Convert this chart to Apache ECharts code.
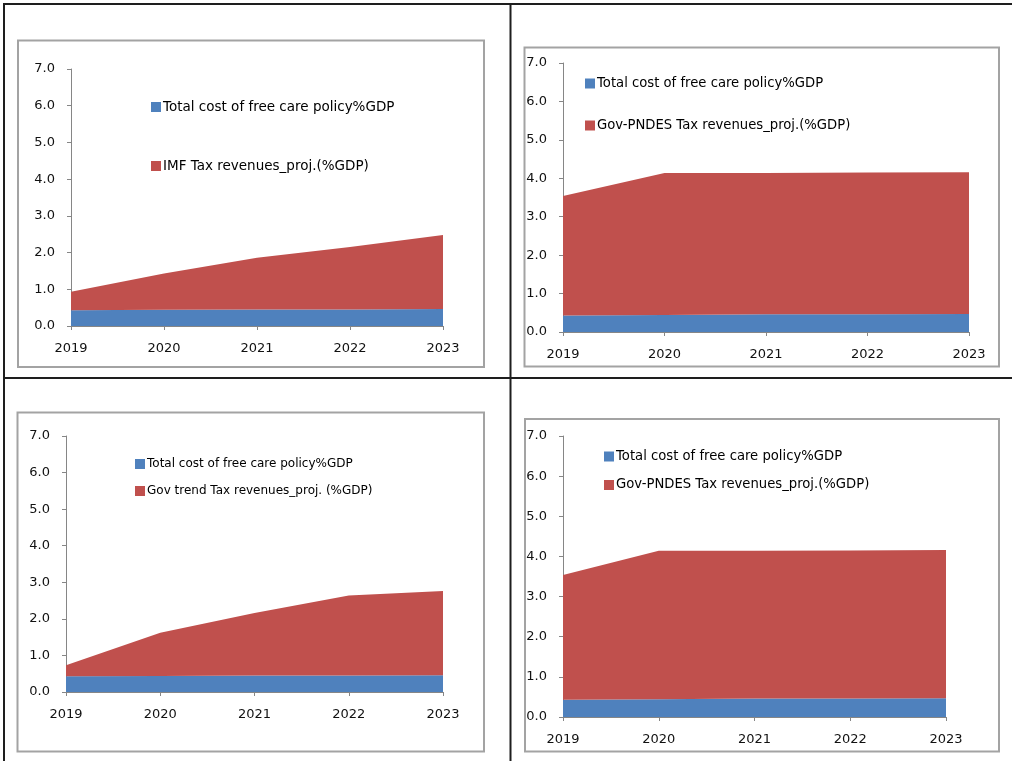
<!DOCTYPE html>
<html>
<head>
<meta charset="utf-8">
<title>Free care policy cost vs tax revenue projections</title>
<script src="https://cdn.jsdelivr.net/npm/echarts@6/dist/echarts.min.js"></script>
<style>
  html, body { margin: 0; padding: 0; background: #fff; }
  #chart { width: 1012px; height: 761px; }
</style>
</head>
<body>
<div id="chart"></div>
<script>
// Years on the horizontal axis of every panel
const years = ['2019', '2020', '2021', '2022', '2023'];
const yTicks = [0, 1, 2, 3, 4, 5, 6, 7];

// Series names
const costName = 'Total cost of free care policy%GDP';
const imfName = 'IMF Tax revenues_proj.(%GDP)';
const pndesName = 'Gov-PNDES Tax revenues_proj.(%GDP)';
const trendName = 'Gov trend Tax revenues_proj. (%GDP)';

// Panel 1: IMF projection (stacked on top of the policy cost)
const cost1 = [0.43, 0.44, 0.45, 0.45, 0.46];
const imfTax = [0.50, 0.99, 1.41, 1.70, 2.02];

// Panel 2: Gov-PNDES projection
const cost2 = [0.43, 0.44, 0.46, 0.46, 0.47];
const pndesTax2 = [3.11, 3.70, 3.68, 3.69, 3.69];

// Panel 3: Gov trend projection
const cost3 = [0.43, 0.44, 0.45, 0.45, 0.46];
const trendTax = [0.30, 1.18, 1.71, 2.19, 2.30];

// Panel 4: Gov-PNDES projection (repeated)
const cost4 = [0.43, 0.44, 0.46, 0.46, 0.47];
const pndesTax4 = [3.11, 3.70, 3.68, 3.69, 3.69];

const BLUE = '#4F81BD';
const RED = '#C0504D';
const FONT = 'DejaVu Sans';

const panels = [
  { grid: { left: 71, top: 69, width: 372, height: 257 },
    frame: [18, 40.5, 466, 326.5],
    legend: { left: 151, top: 100, gap: 45, size: 13.5 },
    cost: cost1, tax: imfTax, taxName: imfName },
  { grid: { left: 563, top: 63, width: 406, height: 269 },
    frame: [524.5, 47.5, 474.5, 319],
    legend: { left: 585, top: 77, gap: 29, size: 13.2 },
    cost: cost2, tax: pndesTax2, taxName: pndesName },
  { grid: { left: 66, top: 436, width: 377, height: 256 },
    frame: [17.5, 412.5, 466.5, 339],
    legend: { left: 135, top: 458, gap: 15, size: 12 },
    cost: cost3, tax: trendTax, taxName: trendName },
  { grid: { left: 563, top: 436, width: 383, height: 281 },
    frame: [525, 419, 474, 332.5],
    legend: { left: 604, top: 450, gap: 15.5, size: 13.2 },
    cost: cost4, tax: pndesTax4, taxName: pndesName }
];

const axisLine = { show: true, lineStyle: { color: '#868686', width: 1 } };
const axisTick = { show: true, length: 4, lineStyle: { color: '#868686', width: 1 } };
const labelStyle = { color: '#111', fontFamily: FONT, fontSize: 13 };

const grid = [], xAxis = [], yAxis = [], series = [], legend = [], graphic = [];

// Table lines around the four panels
const tableLines = [
  [3, 4, 1012, 4],
  [4, 3, 4, 761],
  [510.5, 4, 510.5, 761],
  [4, 378, 1012, 378]
];
tableLines.forEach(([x1, y1, x2, y2]) => {
  graphic.push({ type: 'line', shape: { x1, y1, x2, y2 },
    style: { stroke: '#1e1e1e', lineWidth: 2 }, silent: true });
});

panels.forEach((p, i) => {
  const [fx, fy, fw, fh] = p.frame;
  graphic.push({ type: 'rect', shape: { x: fx, y: fy, width: fw, height: fh },
    style: { fill: 'none', stroke: '#a3a3a3', lineWidth: 2 }, silent: true, z: -1 });

  grid.push(Object.assign({ containLabel: false }, p.grid));
  xAxis.push({
    type: 'category', gridIndex: i, data: years, boundaryGap: false,
    axisLine, axisTick,
    axisLabel: Object.assign({ margin: 16 }, labelStyle),
    splitLine: { show: false }
  });
  yAxis.push({
    type: 'value', gridIndex: i, min: yTicks[0], max: yTicks[yTicks.length - 1], interval: 1,
    axisLine, axisTick,
    axisLabel: Object.assign({ margin: 16, formatter: v => v.toFixed(1) }, labelStyle),
    splitLine: { show: false }
  });
  const common = { type: 'line', xAxisIndex: i, yAxisIndex: i, stack: 'p' + i,
    symbol: 'none', lineStyle: { width: 0 }, silent: true, animation: false };
  series.push(Object.assign({}, common, { name: costName, data: p.cost,
    itemStyle: { color: BLUE }, areaStyle: { color: BLUE, opacity: 1 } }));
  series.push(Object.assign({}, common, { name: p.taxName, data: p.tax,
    itemStyle: { color: RED }, areaStyle: { color: RED, opacity: 1 } }));

  legend.push({
    data: [costName, p.taxName], orient: 'vertical', padding: 0,
    left: p.legend.left, top: p.legend.top, itemGap: p.legend.gap,
    icon: 'rect', itemWidth: 10, itemHeight: 10, selectedMode: false,
    textStyle: { color: '#000', fontFamily: FONT, fontSize: p.legend.size,
      lineHeight: 12, padding: [0, 0, 0, -3] }
  });
});

const chart = echarts.init(document.getElementById('chart'), null, { renderer: 'canvas' });
chart.setOption({
  backgroundColor: '#fff',
  animation: false,
  grid, xAxis, yAxis, series, legend, graphic
});
</script>
</body>
</html>
